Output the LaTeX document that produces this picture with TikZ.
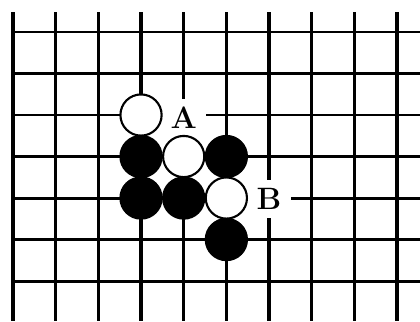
\documentclass[tikz,border=0pt]{standalone}
\usepackage{tikz}

\begin{document}
\begin{tikzpicture}[
    x=1.0667cm, y=-1.0375cm,
    hline/.style={black, line width=2.1pt},
    vline/.style={black, line width=2.3pt},
    edgeline/.style={black, line width=2.7pt},
    whitestone/.style={
        circle,
        draw=black,
        fill=white,
        line width=1.5pt,
        inner sep=0pt,
        minimum size=1.03cm
      },
    blackstone/.style={
        circle,
        draw=black,
        fill=black,
        line width=1.5pt,
        inner sep=0pt,
        minimum size=1.03cm
      },
    pointlabel/.style={
        fill=white,
        inner sep=0pt,
        minimum width=1.1cm,
        minimum height=0.95cm,
        font=\fontsize{22}{22}\selectfont\bfseries
      }
  ]
  \useasboundingbox (-0.3047,-0.7711) rectangle (9.538,6.964);

  % board lines
  \foreach \r in {0,...,6}
    \draw[hline] (0,\r) -- (9.538,\r);
  \foreach \c in {1,...,9}
    \draw[vline] (\c,-0.482) -- (\c,6.964);
  \draw[edgeline] (0,-0.482) -- (0,6.964);

  % marked points
  \node[pointlabel] (ptA) at (4,2.07) {A};
  \node[pointlabel] (ptB) at (6,4.02) {B};

  % stones
  \node[whitestone] (w1) at (3,2) {};
  \node[blackstone] (b1) at (3,3) {};
  \node[whitestone] (w2) at (4,3) {};
  \node[blackstone] (b2) at (5,3) {};
  \node[blackstone] (b3) at (3,4) {};
  \node[blackstone] (b4) at (4,4) {};
  \node[whitestone] (w3) at (5,4) {};
  \node[blackstone] (b5) at (5,5) {};
\end{tikzpicture}
\end{document}
